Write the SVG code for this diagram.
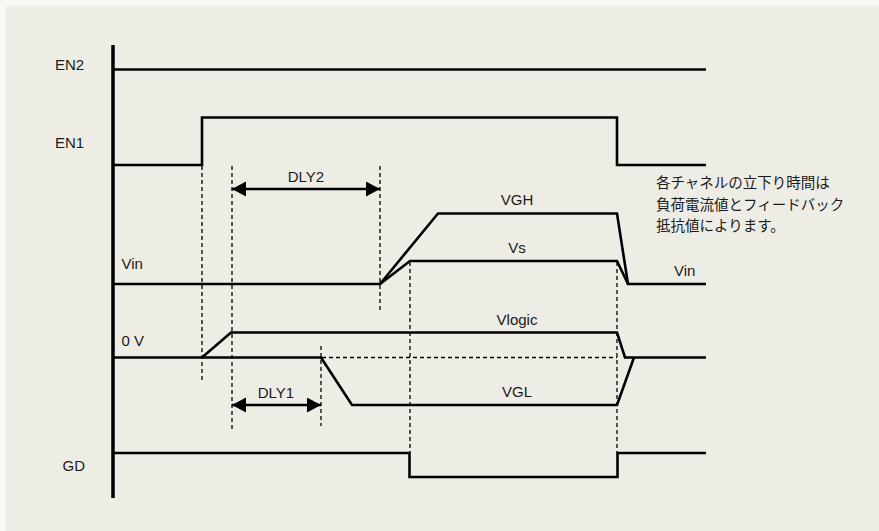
<svg xmlns="http://www.w3.org/2000/svg" width="879" height="531" viewBox="0 0 879 531">
<style>
.bg{fill:#EEEDE5}
.wave{fill:none;stroke:#000;stroke-width:2.6;stroke-linejoin:miter;stroke-linecap:butt}
.axis{fill:none;stroke:#000;stroke-width:3.5}
.guide{fill:none;stroke:#000;stroke-width:1.3;stroke-dasharray:4 3}
.dim{fill:none;stroke:#000;stroke-width:2.6}
.lbl{font-family:"Liberation Sans",Arial,sans-serif;font-size:15px;fill:#1a1a1a}
.mid{text-anchor:middle}
.jp{font-family:"Noto Sans CJK JP","Noto Sans",sans-serif;font-size:14.5px;fill:#1a1a1a}
</style>
<defs>
<marker id="ah" markerUnits="userSpaceOnUse" markerWidth="15" markerHeight="16" refX="14" refY="7.5" orient="auto-start-reverse" viewBox="0 0 15 16">
<path d="M0,0 L14,7.5 L0,15 z" fill="#000"/>
</marker>
</defs>
<rect width="879" height="531" fill="#F7F7F3"/>
<rect class="bg" x="6" y="6" width="873" height="525"/>
<g id="axis"><line class="axis" x1="113" y1="45" x2="113" y2="498"/></g>
<g id="en2"><path class="wave" d="M113,69.5 H706"/><text class="lbl" x="55" y="70">EN2</text></g>
<g id="en1"><path class="wave" d="M113,165 H202 V117.5 H617 V165 H706"/><text class="lbl" x="55" y="148">EN1</text></g>
<g id="vgh"><path class="wave" d="M113,284 H380 L438,213.5 H617 L628,284 H706"/><text class="lbl mid" x="517" y="205">VGH</text><text class="lbl" x="121.5" y="269">Vin</text><text class="lbl" x="674" y="276">Vin</text></g>
<g id="vs"><path class="wave" d="M380,284 L410,261 H617 L628,284"/><text class="lbl mid" x="517" y="253">Vs</text></g>
<g id="vlogic"><path class="wave" d="M202,357.5 L231,332.5 H617 L625,357.5 H706"/><text class="lbl mid" x="517" y="325">Vlogic</text><text class="lbl" x="121.5" y="346">0 V</text></g>
<g id="vgl"><path class="wave" d="M113,357.5 H321 L352,405 H617 L634,357.5"/><text class="lbl mid" x="517" y="397">VGL</text></g>
<g id="gd"><path class="wave" d="M113,453 H409.5 V477 H617.5 V453 H706"/><text class="lbl" x="62.5" y="471">GD</text></g>
<g id="note"><text class="jp" x="656" y="188">各チャネルの立下り時間は</text><text class="jp" x="656" y="210">負荷電流値とフィードバック</text><text class="jp" x="656" y="231">抵抗値によります。</text></g>
<g id="connectors">
<line class="guide" x1="202" y1="166" x2="202" y2="383"/>
<line class="guide" x1="232" y1="166" x2="232" y2="430"/>
<line class="guide" x1="380" y1="166" x2="380" y2="310"/>
<line class="guide" x1="321" y1="346" x2="321" y2="426"/>
<line class="guide" x1="410" y1="262" x2="410" y2="452"/>
<line class="guide" x1="617" y1="262" x2="617" y2="452"/>
<line class="guide" x1="322" y1="357.5" x2="617" y2="357.5"/>
<line class="dim" x1="232" y1="189" x2="380" y2="189" marker-start="url(#ah)" marker-end="url(#ah)"/>
<line class="dim" x1="232" y1="405" x2="321" y2="405" marker-start="url(#ah)" marker-end="url(#ah)"/>
<text class="lbl mid" x="306" y="182">DLY2</text>
<text class="lbl mid" x="276" y="398">DLY1</text>
</g>
</svg>
